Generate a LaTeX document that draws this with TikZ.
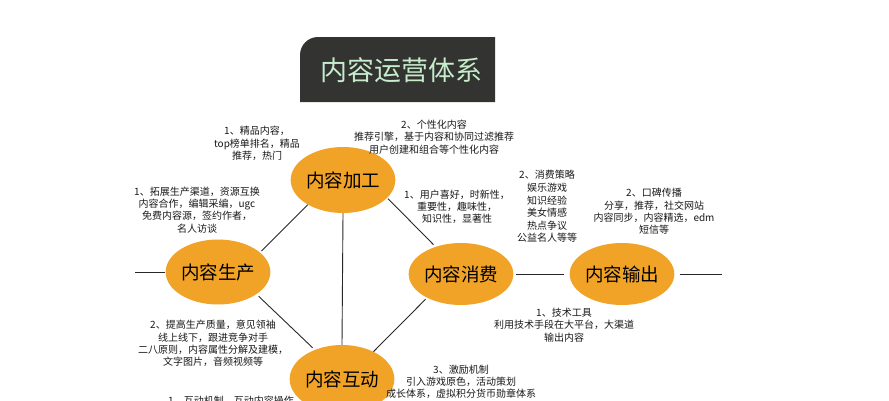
\documentclass[tikz,border=0pt]{standalone}
\usepackage{fontspec}
\newfontfamily\cjk{Noto Sans CJK SC}
\usetikzlibrary{shapes.geometric}
\definecolor{orangefill}{RGB}{241,163,40}
\definecolor{titlebg}{RGB}{51,51,49}
\definecolor{titletxt}{RGB}{198,236,204}
\definecolor{txt}{RGB}{25,25,25}
\definecolor{linec}{RGB}{40,40,40}
\tikzset{
  ball/.style={ellipse, fill=orangefill, minimum width=89pt, minimum height=66pt, inner sep=0pt,
    font=\cjk\fontsize{18.5}{20}\selectfont, text=black},
  note/.style={align=center, inner sep=0pt, text=txt, font=\cjk\fontsize{10}{12.3}\selectfont},
  conn/.style={draw=linec, line width=0.9pt},
}
\begin{document}
\begin{tikzpicture}[x=1pt,y=-1pt]
\useasboundingbox (0,0) rectangle (889,400);
\clip (0,0) rectangle (889,400);
\fill[white] (0,0) rectangle (889,400);
% title
\fill[titlebg] (495,102) -- (300,102) [rounded corners=18pt] -- (300,37) [sharp corners] -- (495,37) -- cycle;
\node[inner sep=0pt, text=titletxt, font=\cjk\fontsize{27}{30}\selectfont] (title) at (401,70) {内容运营体系};
% ellipses
\node[ball] (jg) at (343,180) {内容加工};
\node[ball, minimum height=65pt] (sc) at (218,272) {内容生产};
\node[ball, minimum width=90pt, minimum height=68pt] (hd) at (342,379) {内容互动};
\node[ball, minimum width=93pt, minimum height=62pt] (xf) at (461,274) {内容消费};
\node[ball, minimum height=62pt] (sch) at (622,274) {内容输出};
\coordinate (L) at (130,272);
\coordinate (R) at (722,274);
% connectors
\draw[conn, shorten <=5pt] (L) -- (sc.west);
\draw[conn, shorten >=2pt] (jg.215) -- (sc.25);
\draw[conn, shorten <=3pt, shorten >=3pt] (sc.-30) -- (hd.133);
\draw[conn] (jg.south) -- (hd.north);
\draw[conn, shorten <=1pt, shorten >=3pt] (jg.-22) -- (xf.133);
\draw[conn, shorten <=2pt] (xf.215) -- (hd.41);
\draw[conn, shorten <=2pt, shorten >=5pt] (xf.east) -- (sch.west);
\draw[conn, shorten <=5pt] (sch.east) -- (R);
% notes
\node[note] (t1) at (257,143.5) {1、精品内容，\\top榜单排名，精品\\推荐，热门};
\node[note] (t2) at (197,210) {1、拓展生产渠道，资源互换\\内容合作，编辑采编，ugc\\免费内容源，签约作者，\\名人访谈};
\node[note] (t3) at (434,137) {2、个性化内容\\推荐引擎，基于内容和协同过滤推荐\\用户创建和组合等个性化内容};
\node[note] (t4) at (457,207) {1、用户喜好，时新性，\\重要性，趣味性，\\知识性，显著性};
\node[note, font=\cjk\fontsize{10}{12.6}\selectfont] (t5) at (547,206.5) {2、消费策略\\娱乐游戏\\知识经验\\美女情感\\热点争议\\公益名人等等};
\node[note] (t6) at (654,211.5) {2、口碑传播\\分享，推荐，社交网站\\内容同步，内容精选，edm\\短信等};
\node[note] (t7) at (213,343.5) {2、提高生产质量，意见领袖\\线上线下，跟进竞争对手\\二八原则，内容属性分解及建模，\\文字图片，音频视频等};
\node[note] (t8) at (564,325) {1、技术工具\\利用技术手段在大平台，大渠道\\输出内容};
\node[note] (t9) at (461,382) {3、激励机制\\引入游戏原色，活动策划\\成长体系，虚拟积分货币勋章体系};
\node[note] (t10) at (231,401) {1、互动机制，互动内容操作};
\end{tikzpicture}
\end{document}
